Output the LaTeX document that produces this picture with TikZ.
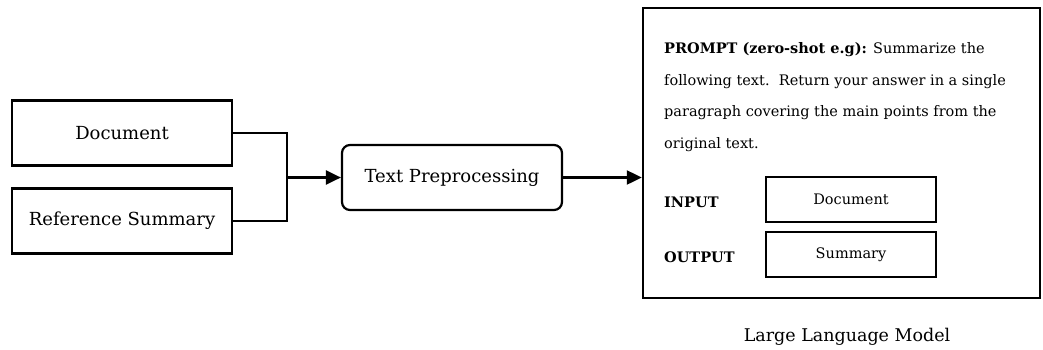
\documentclass[tikz,border=0pt]{standalone}
\usepackage{fontspec}
\setmainfont{DejaVu Serif}
\usetikzlibrary{arrows.meta}
\tikzset{
  box/.style={draw, line width=2.2pt, minimum width=220pt, minimum height=65pt, inner sep=0pt,
              font=\fontsize{18}{22}\selectfont},
  roundbox/.style={box, rounded corners=8pt},
  slot/.style={draw, line width=2.2pt, minimum width=170pt, minimum height=45pt, inner sep=0pt,
               font=\fontsize{14.5}{18}\selectfont},
  prompt/.style={anchor=base west, inner sep=0pt, font=\fontsize{14.5}{18}\selectfont},
  link/.style={line width=2.2pt},
  arrow/.style={link, -{Triangle[length=15pt, width=14pt]}},
}
\begin{document}
\begin{tikzpicture}[x=1pt, y=-1pt]
\useasboundingbox (0,0) rectangle (1043,349);

% input boxes
\node[box] (doc) at (122,133) {Document};
\node[box] (ref) at (122,221) {Reference Summary};

% preprocessing step
\node[roundbox] (prep) at (452,177.5) {Text Preprocessing};

% the model frame
\node[draw, line width=2.4pt, minimum width=397pt, minimum height=290pt, inner sep=0pt] (llm) at (841.5,153) {};

% prompt text
\node[prompt] (p1) at (664,53.5) {\textbf{PROMPT (zero-shot e.g):} Summarize the};
\node[prompt] (p2) at (664,85) {following text.\ \ Return your answer in a single};
\node[prompt] (p3) at (664,116) {paragraph covering the main points from the};
\node[prompt] (p4) at (664,148) {original text.};

\node[prompt] (inlab) at (664,207.5) {\textbf{INPUT}};
\node[prompt] (outlab) at (664,262.5) {\textbf{OUTPUT}};
\node[slot] (indoc) at (851,199.5) {Document};
\node[slot] (outsum) at (851,254.5) {Summary};

\node[anchor=base, inner sep=0pt, font=\fontsize{17.5}{21}\selectfont] (cap) at (847,341) {Large Language Model};

% connectors
\coordinate (j) at (287,177.5);
\draw[link] (doc.east) -| (j) |- (ref.east);
\draw[arrow] (j) -- (prep.west);
\draw[arrow] (prep.east) -- (prep.east -| llm.west);
\end{tikzpicture}
\end{document}
